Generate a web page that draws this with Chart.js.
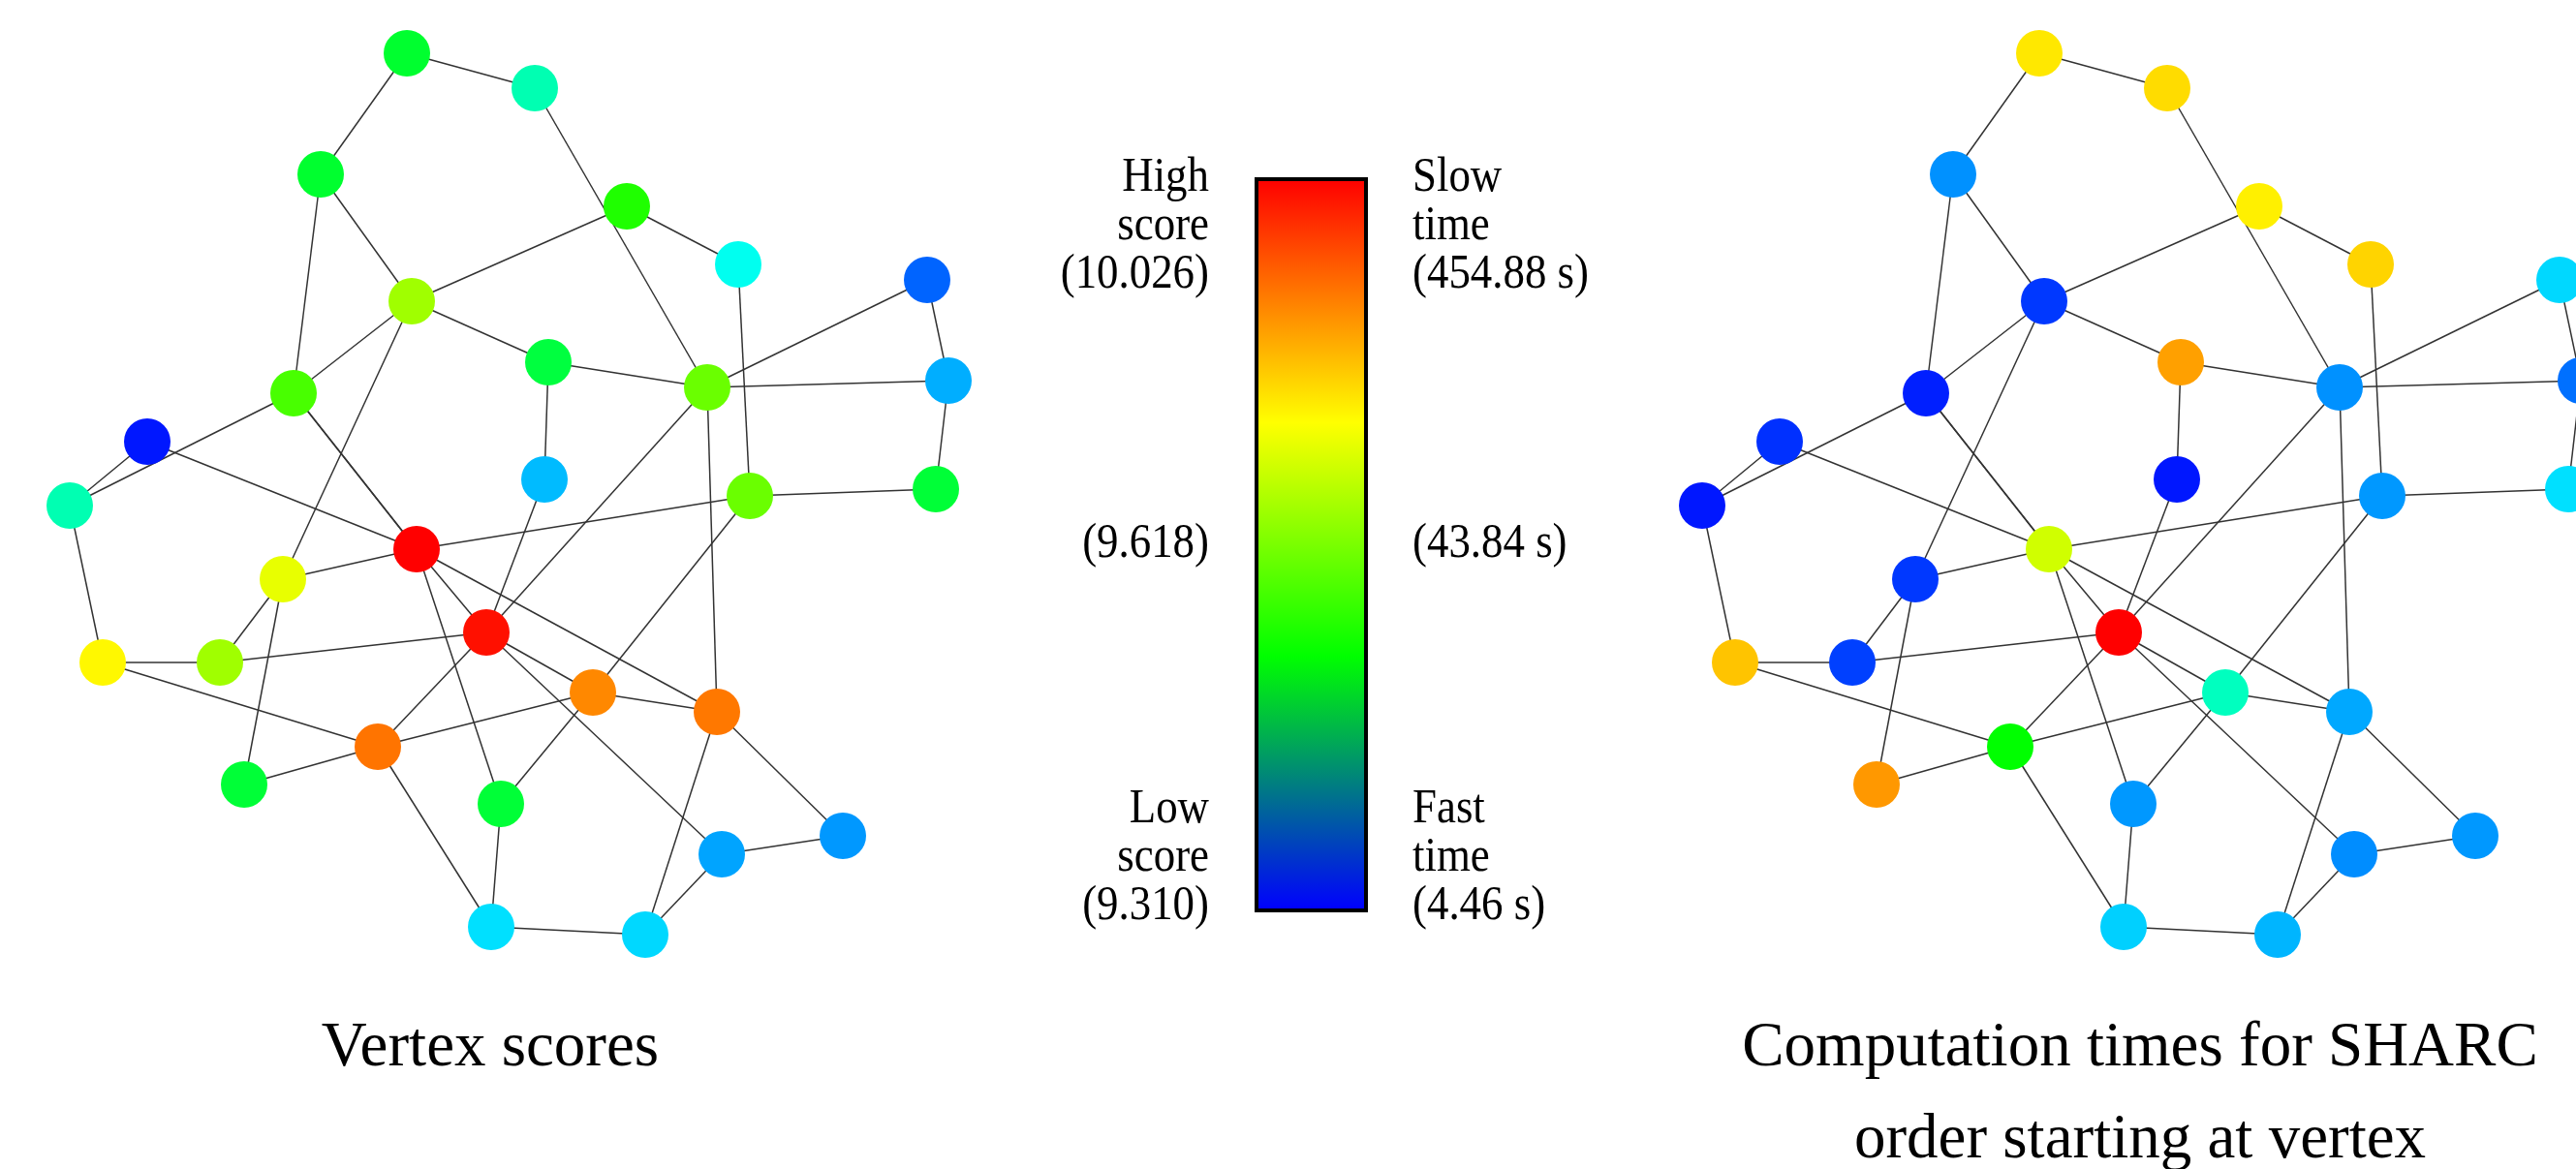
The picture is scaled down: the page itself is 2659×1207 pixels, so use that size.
<!DOCTYPE html>
<html>
<head>
<meta charset="utf-8">
<script src="https://cdn.jsdelivr.net/npm/chart.js@4.4.1/dist/chart.umd.min.js"></script>
<style>
html, body { margin: 0; padding: 0; background: #fff; overflow: hidden; }
#wrap { width: 2659px; height: 1207px; position: relative; }
</style>
</head>
<body>
<div id="wrap"><canvas id="myChart"></canvas></div>
<script>
// vertex layout, the same drawing is used for both graphs
const nodeX = [420, 552, 331, 647, 762, 957, 425, 566, 730, 979,
               303, 152, 562, 774, 966, 72, 430, 292, 502, 106,
               227, 390, 612, 740, 252, 517, 745, 870, 507, 666];
const nodeY = [55, 91, 180, 213, 273, 289, 311, 374, 400, 393,
               406, 456, 495, 512, 505, 522, 567, 598, 653, 684,
               684, 771, 715, 735, 810, 830, 882, 863, 957, 965];

// [10,16] appears twice in the picture (drawn darker)
const edges = [[0,1],[0,2],[2,10],[2,6],[6,3],[6,7],[6,10],[6,17],[10,15],[11,15],
               [11,16],[10,16],[10,16],[1,8],[3,4],[4,13],[5,8],[5,9],[9,14],[7,8],[7,12],
               [8,9],[8,18],[8,23],[13,14],[12,18],[13,22],[22,25],[16,13],[16,17],[16,18],
               [16,25],[16,23],[17,20],[17,24],[15,19],[19,20],[19,21],[20,18],[21,24],[21,18],
               [21,22],[21,28],[25,28],[28,29],[18,22],[18,26],[22,23],[23,27],[23,29],[26,27],
               [26,29]];

// colour level of each vertex, 0 = bottom of the bar (blue), 1 = top (red)
const scoreLevel = [0.454, 0.325, 0.454, 0.531, 0.265, 0.098, 0.657, 0.438, 0.604, 0.171,
                    0.571, 0.023, 0.183, 0.604, 0.446, 0.325, 1.000, 0.728, 0.984, 0.757,
                    0.657, 0.886, 0.867, 0.882, 0.446, 0.446, 0.161, 0.149, 0.220, 0.212];
const timeLevel = [0.773, 0.784, 0.142, 0.765, 0.792, 0.212, 0.055, 0.843, 0.142, 0.110,
                   0.031, 0.047, 0.023, 0.149, 0.220, 0.023, 0.704, 0.055, 1.000, 0.808,
                   0.063, 0.500, 0.313, 0.165, 0.851, 0.149, 0.138, 0.149, 0.204, 0.177];

const graphShift = [0, 1685];

const scoreLabels = [['High', 'score', '(10.026)'], ['(9.618)'], ['Low', 'score', '(9.310)']];
const timeLabels = [['Slow', 'time', '(454.88 s)'], ['(43.84 s)'], ['Fast', 'time', '(4.46 s)']];
const titles = [['Vertex scores'], ['Computation times for SHARC', 'order starting at vertex']];


function levelColor(t){
    return 'hsl(' + (240 * (1 - t)).toFixed(1) + ',100%,50%)';
}

let datasets = [];
[scoreLevel, timeLevel].forEach((lvl, g) => {
    const dx = graphShift[g];
    datasets.push({
        data: nodeX.map((x, i) => ({x: x + dx, y: nodeY[i]})),
        pointRadius: 24,
        pointBackgroundColor: lvl.map(levelColor),
        pointBorderWidth: 0,
        showLine: false,
        order: 0,
        clip: false
    });
    edges.forEach(([a, b]) => {
        datasets.push({
            data: [{x: nodeX[a] + dx, y: nodeY[a]}, {x: nodeX[b] + dx, y: nodeY[b]}],
            showLine: true,
            borderColor: '#333333',
            borderWidth: 1.5,
            pointRadius: 0,
            fill: false,
            order: 1,
            clip: false
        });
    });
});

// colour bar + texts, placed in the same coordinates as the vertices
const legendPlugin = {
    id: 'legendText',
    afterDraw(chart){
        const ctx = chart.ctx;
        const sx = chart.scales.x, sy = chart.scales.y;
        const px = v => sx.getPixelForValue(v);
        const py = v => sy.getPixelForValue(v);

        // colour bar
        const x0 = px(1297), x1 = px(1410), y0 = py(185), y1 = py(940);
        const grad = ctx.createLinearGradient(0, y0, 0, y1);
        grad.addColorStop(0, '#ff0000');
        grad.addColorStop(0.333, '#ffff00');
        grad.addColorStop(0.652, '#00ff00');
        grad.addColorStop(1, '#0000ff');
        ctx.save();
        ctx.fillStyle = grad;
        ctx.fillRect(x0, y0, x1 - x0, y1 - y0);
        ctx.lineWidth = 4;
        ctx.strokeStyle = '#000';
        ctx.strokeRect(x0, y0, x1 - x0, y1 - y0);
        ctx.restore();

        // bar labels (slightly condensed serif)
        const firstBase = [197, 575, 849];
        const drawGroup = (groups, x, align) => {
            groups.forEach((lines, gi) => {
                lines.forEach((t, li) => {
                    ctx.save();
                    ctx.translate(px(x), py(firstBase[gi] + li * 50));
                    ctx.scale(0.88, 1);
                    ctx.font = '51px "Liberation Serif", "DejaVu Serif", serif';
                    ctx.fillStyle = '#000';
                    ctx.textAlign = align;
                    ctx.textBaseline = 'alphabetic';
                    ctx.fillText(t, 0, 0);
                    ctx.restore();
                });
            });
        };
        drawGroup(scoreLabels, 1248, 'right');
        drawGroup(timeLabels, 1458, 'left');

        // titles under each graph
        const centers = [506, 2209];
        ctx.save();
        ctx.font = '65px "Liberation Serif", "DejaVu Serif", serif';
        ctx.fillStyle = '#000';
        ctx.textAlign = 'center';
        ctx.textBaseline = 'alphabetic';
        titles.forEach((lines, g) => {
            lines.forEach((t, li) => {
                ctx.fillText(t, px(centers[g]), py(1100 + li * 95));
            });
        });
        ctx.restore();
    }
};

const ctx1 = document.querySelector('#myChart').getContext('2d');
let myChart = new Chart(ctx1, {
    type: 'scatter',
    data: { datasets: datasets },
    options: {
        responsive: true,
        maintainAspectRatio: false,
        animation: false,
        events: [],
        layout: { padding: 0, autoPadding: false },
        plugins: { legend: { display: false }, tooltip: { enabled: false } },
        scales: {
            x: { type: 'linear', min: 0, max: 2659, display: false },
            y: { type: 'linear', min: 0, max: 1207, reverse: true, display: false }
        }
    },
    plugins: [legendPlugin]
});
</script>
</body>
</html>
